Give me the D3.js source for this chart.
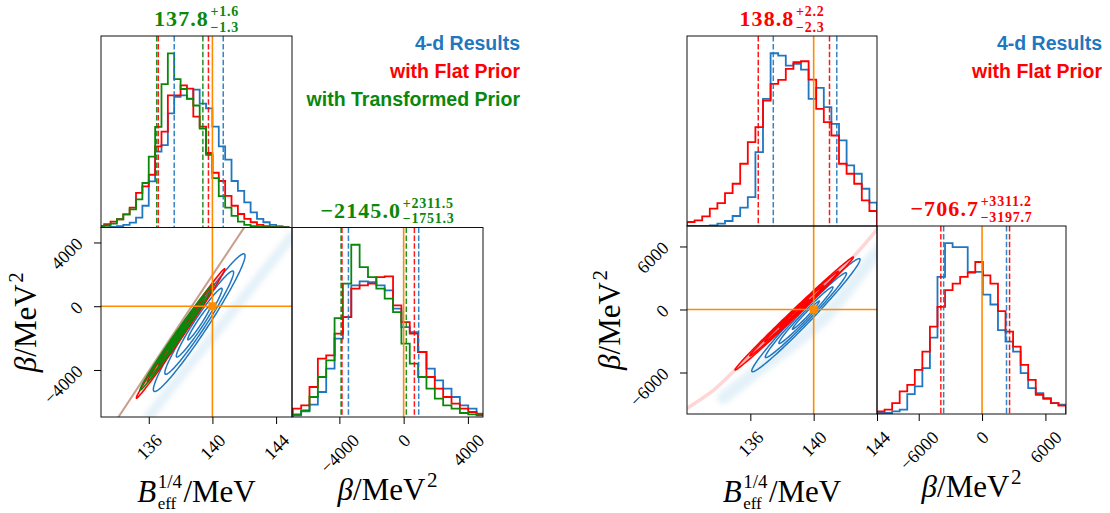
<!DOCTYPE html>
<html>
<head>
<meta charset="utf-8">
<script src="https://cdn.jsdelivr.net/npm/d3@7"></script>
<style>
  body { margin: 0; background: #fff; }
  svg { display: block; }
</style>
</head>
<body>
<div id="chart"></div>
<script>
// ---------- data ----------
// left corner : 1-d histograms of B_eff^{1/4}
const leftBBins   = { start: 132.8, width: 0.4 };
const leftBBlue   = [0,0,2,4,8,15,30,66,140,230,250,346,396,401,391,418,376,361,306,246,206,141,111,76,46,26,16,8,4,2];
const leftBRed    = [5,10,18,25,40,60,105,125,160,246,291,401,401,431,421,336,306,226,166,141,96,66,41,26,16,8,4,2,0,0];
const leftBGreen  = [3,6,12,25,40,55,85,135,215,305,435,528,450,420,390,370,300,220,150,95,60,35,18,8,4,2,1,1,0,0];
// left corner : 1-d histograms of beta
const leftBetaBins  = { start: -6900, width: 520 };
const leftBetaBlue  = [5,17,37,75,145,235,300,395,407,405,395,380,325,270,255,195,145,110,85,60,35,25,10];
const leftBetaRed   = [25,35,90,175,185,250,300,385,395,400,420,422,335,285,250,195,120,85,60,40,25,15,8];
const leftBetaGreen = [8,20,60,120,170,297,400,517,450,420,385,355,315,220,160,120,85,55,35,25,12,8,5];
// right corner
const rightBBins    = { start: 132.0, width: 0.48 };
const rightBBlue    = [0,0,0,2,7,15,30,55,87,222,382,519,512,482,487,470,382,415,357,307,257,182,157,112,70];
const rightBRed     = [12,17,29,52,69,99,127,187,252,297,377,427,439,472,492,495,440,352,312,272,187,157,127,77,45];
const rightBetaBins = { start: -9950, width: 716 };
const rightBetaBlue = [3,3,8,13,60,83,138,230,413,515,503,503,428,428,360,330,253,218,188,123,78,63,48,33,28];
const rightBetaRed  = [8,13,33,68,88,133,188,263,323,373,393,413,426,458,418,393,310,248,203,148,103,58,46,33,25];

// 16% / 84% quantile lines
const leftBQuantBlue  = [137.6, 140.68];
const leftBQuantRed   = [136.6, 139.75];
const leftBQuantGreen = [136.5, 139.4];
const leftBetaQuantBlue  = [-3437, 937];
const leftBetaQuantRed   = [-3840, 669];
const leftBetaQuantGreen = [-3896, 166.5];
const rightBQuantBlue  = [137.45, 141.46];
const rightBQuantRed   = [136.5, 141.0];
const rightBetaQuantBlue = [-3637, 2317];
const rightBetaQuantRed  = [-3904, 2604.5];

// true values (orange)
const truthB = 140, truthBeta = 0;

// titles: median, plus, minus
const leftBTitle     = ["137.8", "+1.6", "\u22121.3"];
const leftBetaTitle  = ["\u22122145.0", "+2311.5", "\u22121751.3"];
const rightBTitle    = ["138.8", "+2.2", "\u22122.3"];
const rightBetaTitle = ["\u2212706.7", "+3311.2", "\u22123197.7"];

// ticks
const leftBTicks = [136, 140, 144];
const leftBetaTicks = [-4000, 0, 4000];
const rightBTicks = [136, 140, 144];
const rightBetaTicks = [-6000, 0, 6000];

// 2-d contours as gaussian ellipses: mean, sd, correlation
const leftBlueC  = { mean: [139.17, -1030], sd: [1.44, 2160], rho: 0.97 };
const leftRedC   = { mean: [138.0, -1706],  sd: [1.39, 2031], rho: 0.9955 };
const leftGreenC = { mean: [137.78, -1915], sd: [1.16, 1667], rho: 0.9935 };
const rightBlueC = { mean: [139.51, -541],  sd: [1.71, 2692], rho: 0.984 };
const rightRedC  = { mean: [138.77, -385],  sd: [1.87, 2690], rho: 0.9965 };
const sigmaLevels = [2, 1.5, 1, 0.5];

// scatter clouds (center lines)
const leftBlueCloud  = [[136,-6950],[138.3,-4000],[140.5,-1300],[142.7,1500],[145,4400]];
const leftPriorLine  = [[134.0,-7100],[138.0,-1050],[141.94,4856],[142.6,5900]];
const rightBlueCloud = [[134.3,-8400],[136.3,-6000],[140.5,-1000],[143.5,4500],[144.6,6500]];
const rightPriorLine = [[131.8,-9600],[133.7,-7650],[134.9,-5950],[138.8,-350],[142.5,5000],[144.2,8000]];

// legends
const leftLegend  = [["4-d Results", "blue"], ["with Flat Prior", "red"], ["with Transformed Prior", "green"]];
const rightLegend = [["4-d Results", "blue"], ["with Flat Prior", "red"]];

// ---------- drawing ----------
const W = 1110, H = 513;
const col = { blue: "#1f77c0", red: "#ff0000", green: "#0b870b", orange: "#ff8c00" };
const serif = "'Liberation Serif','Times New Roman',serif";
const sans = "'Liberation Sans',Arial,sans-serif";
const minus = d => d < 0 ? "\u2212" + Math.abs(d) : String(d);

const svg = d3.select("#chart").append("svg").attr("width", W).attr("height", H);
svg.append("rect").attr("width", W).attr("height", H).attr("fill", "#fff");
const defs = svg.append("defs");
defs.append("filter").attr("id", "blur").append("feGaussianBlur").attr("stdDeviation", 2.5);
let clipN = 0;

function panel(x0, x1, y0, y1) {
  const id = "clip" + (clipN++);
  defs.append("clipPath").attr("id", id).append("rect")
    .attr("x", x0).attr("y", y0).attr("width", x1 - x0).attr("height", y1 - y0);
  return svg.append("g").attr("clip-path", `url(#${id})`);
}

function frame(x0, x1, y0, y1) {
  svg.append("rect").attr("x", x0).attr("y", y0).attr("width", x1 - x0).attr("height", y1 - y0)
    .attr("fill", "none").attr("stroke", "#111").attr("stroke-width", 1);
}

function histPath(xs, ys, bins, counts) {
  const pts = [[bins.start, 0]];
  counts.forEach((c, i) => {
    const a = bins.start + i * bins.width;
    pts.push([a, c], [a + bins.width, c]);
  });
  pts.push([bins.start + counts.length * bins.width, 0]);
  return d3.line().x(d => xs(d[0])).y(d => ys(d[1]))(pts);
}

function drawHist(g, xs, y0, y1, bins, series, quants) {
  const maxC = d3.max(series, s => d3.max(s[1]));
  const ys = d3.scaleLinear().domain([0, maxC * 1.1]).range([y1, y0]);
  series.forEach(([c, counts]) => {
    g.append("path").attr("d", histPath(xs, ys, bins, counts))
      .attr("fill", "none").attr("stroke", col[c]).attr("stroke-width", 1.8);
  });
  quants.forEach(([c, vals]) => {
    vals.forEach(v => {
      g.append("line").attr("x1", xs(v)).attr("x2", xs(v)).attr("y1", y0).attr("y2", y1)
        .attr("stroke", col[c]).attr("stroke-width", 1.5).attr("stroke-dasharray", "5.5,2.4")
        .attr("opacity", 0.9);
    });
  });
}

function ellipse(c, r) {
  const k = Math.sqrt(1 - c.rho * c.rho);
  return d3.range(0, 161).map(i => {
    const t = i / 160 * 2 * Math.PI;
    const u = r * Math.cos(t), v = r * Math.sin(t);
    return [c.mean[0] + c.sd[0] * u, c.mean[1] + c.sd[1] * (c.rho * u + k * v)];
  });
}

function drawContours(g, xs, ys, c, color, filled) {
  const line = d3.line().x(d => xs(d[0])).y(d => ys(d[1])).curve(d3.curveLinearClosed);
  sigmaLevels.forEach(r => {
    g.append("path").attr("d", line(ellipse(c, r)))
      .attr("fill", filled ? color : "none").attr("fill-opacity", filled ? 0.17 : 0)
      .attr("stroke", color).attr("stroke-width", 1.5);
  });
}

function cloud(g, xs, ys, pts, color, width, opacity, blur) {
  const line = d3.line().x(d => xs(d[0])).y(d => ys(d[1])).curve(d3.curveCatmullRom);
  const p = g.append("path").attr("d", line(pts)).attr("fill", "none")
    .attr("stroke", color).attr("stroke-width", width).attr("stroke-opacity", opacity)
    .attr("stroke-linecap", "round");
  if (blur) p.attr("filter", "url(#blur)");
}

// text with stacked super/subscript
function scripted(g, cx, y, o) {
  const grp = g.append("g").attr("fill", o.color).style("font-family", serif)
    .style("font-weight", o.weight || "normal");
  const base = grp.append("text").attr("y", y).style("font-size", o.size + "px")
    .style("letter-spacing", (o.ls || 0) + "px");
  o.base.forEach(([t, it]) => base.append("tspan").style("font-style", it ? "italic" : "normal").text(t));
  const wb = base.node().getComputedTextLength();
  const scr = [];
  if (o.sup) scr.push(grp.append("text").attr("y", y - o.up).style("font-size", o.ssize + "px")
    .style("letter-spacing", (o.ls || 0) * 0.7 + "px").text(o.sup));
  if (o.sub) scr.push(grp.append("text").attr("y", y + o.down).style("font-size", (o.bsize || o.ssize) + "px")
    .style("letter-spacing", (o.ls || 0) * 0.7 + "px").text(o.sub));
  const ws = d3.max(scr, s => s.node().getComputedTextLength()) || 0;
  let rest = null, wr = 0;
  if (o.rest) {
    rest = grp.append("text").attr("y", y).style("font-size", o.size + "px").text(o.rest);
    wr = rest.node().getComputedTextLength();
  }
  const gap = 1.5;
  let x = cx - (wb + gap + ws + (rest ? gap + wr : 0)) / 2;
  base.attr("x", x); x += wb + gap;
  scr.forEach(s => s.attr("x", x)); x += ws + gap;
  if (rest) rest.attr("x", x);
}

function title(cx, top, t, color) {
  scripted(svg, cx, top - 10, { base: [[t[0], false]], sup: t[1], sub: t[2], up: 10, down: 5.5,
    size: 22, ssize: 14, weight: "bold", color: color, ls: 1.1 });
}

function styleTick(sel) {
  sel.style("font-family", serif).style("font-size", "18px").attr("fill", "#000")
    .attr("text-anchor", "middle").attr("dominant-baseline", "central");
}

function xAxis(xs, ticks, y) {
  const ax = svg.append("g").attr("transform", `translate(0,${y})`)
    .call(d3.axisBottom(xs).tickValues(ticks).tickSize(7).tickSizeOuter(0).tickFormat(minus));
  ax.select(".domain").remove();
  ax.selectAll(".tick line").attr("stroke", "#000");
  ax.selectAll(".tick text").each(function () {
    const t = d3.select(this).attr("y", null).attr("dy", null);
    styleTick(t);
    const half = (this.getComputedTextLength() + 12.6) / (2 * Math.SQRT2);
    t.attr("transform", `translate(0,${16 + half}) rotate(-45)`);
  });
}

function yAxis(ys, ticks, x) {
  const ax = svg.append("g").attr("transform", `translate(${x},0)`)
    .call(d3.axisLeft(ys).tickValues(ticks).tickSize(7).tickSizeOuter(0).tickFormat(minus));
  ax.select(".domain").remove();
  ax.selectAll(".tick line").attr("stroke", "#000");
  ax.selectAll(".tick text").each(function () {
    const t = d3.select(this).attr("x", null).attr("dy", null);
    styleTick(t);
    const half = (this.getComputedTextLength() + 12.6) / (2 * Math.SQRT2);
    t.attr("transform", `translate(${-17 - half},${-6.5 + half}) rotate(-45)`);
  });
}

const betaLabel = { base: [["\u03b2", true], ["/MeV", false]], sup: "2", up: 13, size: 31, ssize: 21, color: "#000" };
const bLabel = { base: [["B", true]], sup: "1/4", sub: "eff", up: 14, down: 7, ssize: 19, bsize: 17, rest: "/MeV", size: 31, color: "#000" };

function corner(cfg) {
  const { x0, x1, x2, y0, y1, y2 } = cfg;
  const xB = d3.scaleLinear().domain(cfg.bDomain).range([x0, x1]);
  const xBeta = d3.scaleLinear().domain(cfg.betaDomain).range([x1, x2]);
  const yBeta = d3.scaleLinear().domain(cfg.betaDomain).range([y2, y1]);

  // top histogram
  const g1 = panel(x0, x1, y0, y1);
  drawHist(g1, xB, y0, y1, cfg.bBins, cfg.bSeries, cfg.bQuants);
  g1.append("line").attr("x1", xB(truthB)).attr("x2", xB(truthB)).attr("y1", y0).attr("y2", y1)
    .attr("stroke", col.orange).attr("stroke-width", 1.6);

  // beta histogram
  const g3 = panel(x1, x2, y1, y2);
  drawHist(g3, xBeta, y1, y2, cfg.betaBins, cfg.betaSeries, cfg.betaQuants);
  g3.append("line").attr("x1", xBeta(truthBeta)).attr("x2", xBeta(truthBeta)).attr("y1", y1).attr("y2", y2)
    .attr("stroke", col.orange).attr("stroke-width", 1.6);

  // 2-d panel
  const g2 = panel(x0, x1, y1, y2);
  cloud(g2, xB, yBeta, cfg.blueCloud, col.blue, cfg.cloudWidth, 0.1, true);
  cloud(g2, xB, yBeta, cfg.priorLine, cfg.priorColor, cfg.priorWidth, cfg.priorOpacity, false);
  cfg.contours.forEach(([c, color, filled]) => drawContours(g2, xB, yBeta, c, col[color], filled));
  g2.append("line").attr("x1", xB(truthB)).attr("x2", xB(truthB)).attr("y1", y1).attr("y2", y2)
    .attr("stroke", col.orange).attr("stroke-width", 1.6);
  g2.append("line").attr("x1", x0).attr("x2", x1).attr("y1", yBeta(truthBeta)).attr("y2", yBeta(truthBeta))
    .attr("stroke", col.orange).attr("stroke-width", 1.6);
  g2.append("rect").attr("x", xB(truthB) - 4).attr("y", yBeta(truthBeta) - 4)
    .attr("width", 8).attr("height", 8).attr("fill", col.orange);

  frame(x0, x1, y0, y1);
  frame(x0, x1, y1, y2);
  frame(x1, x2, y1, y2);

  xAxis(xB, cfg.bTicks, y2);
  xAxis(xBeta, cfg.betaTicks, y2);
  yAxis(yBeta, cfg.betaTicks, x0);

  title((x0 + x1) / 2, y0, cfg.bTitle, cfg.titleColor);
  title((x1 + x2) / 2, y1, cfg.betaTitle, cfg.titleColor);

  scripted(svg, (x0 + x1) / 2, cfg.bLabelY, bLabel);
  scripted(svg, (x1 + x2) / 2, cfg.betaLabelY, betaLabel);
  scripted(svg.append("g").attr("transform", `translate(${cfg.yLabelX},${(y1 + y2) / 2}) rotate(-90)`), 0, 0, betaLabel);

  cfg.legend.forEach(([t, c], i) => {
    svg.append("text").attr("x", cfg.legendX).attr("y", 50 + i * 28)
      .attr("text-anchor", "end").attr("fill", col[c])
      .style("font-family", sans).style("font-weight", "bold").style("font-size", "19.5px")
      .text(t);
  });
}

corner({
  x0: 101, x1: 292, x2: 483, y0: 36, y1: 227.5, y2: 417,
  bDomain: [133, 145], betaDomain: [-6950, 4940],
  bBins: leftBBins, bSeries: [["blue", leftBBlue], ["red", leftBRed], ["green", leftBGreen]],
  bQuants: [["blue", leftBQuantBlue], ["red", leftBQuantRed], ["green", leftBQuantGreen]],
  betaBins: leftBetaBins, betaSeries: [["blue", leftBetaBlue], ["red", leftBetaRed], ["green", leftBetaGreen]],
  betaQuants: [["blue", leftBetaQuantBlue], ["red", leftBetaQuantRed], ["green", leftBetaQuantGreen]],
  blueCloud: leftBlueCloud, cloudWidth: 10,
  priorLine: leftPriorLine, priorColor: "#b0765a", priorWidth: 2, priorOpacity: 0.7,
  contours: [[leftBlueC, "blue", false], [leftRedC, "red", true], [leftGreenC, "green", true]],
  bTicks: leftBTicks, betaTicks: leftBetaTicks,
  bTitle: leftBTitle, betaTitle: leftBetaTitle, titleColor: col.green,
  bLabelY: 502, betaLabelY: 500, yLabelX: 36,
  legend: leftLegend, legendX: 520
});

corner({
  x0: 687, x1: 877, x2: 1066, y0: 36, y1: 226, y2: 414,
  bDomain: [132, 144], betaDomain: [-9950, 7950],
  bBins: rightBBins, bSeries: [["blue", rightBBlue], ["red", rightBRed]],
  bQuants: [["blue", rightBQuantBlue], ["red", rightBQuantRed]],
  betaBins: rightBetaBins, betaSeries: [["blue", rightBetaBlue], ["red", rightBetaRed]],
  betaQuants: [["blue", rightBetaQuantBlue], ["red", rightBetaQuantRed]],
  blueCloud: rightBlueCloud, cloudWidth: 13,
  priorLine: rightPriorLine, priorColor: "#ff3030", priorWidth: 3.5, priorOpacity: 0.2,
  contours: [[rightBlueC, "blue", false], [rightRedC, "red", true]],
  bTicks: rightBTicks, betaTicks: rightBetaTicks,
  bTitle: rightBTitle, betaTitle: rightBetaTitle, titleColor: col.red,
  bLabelY: 502, betaLabelY: 497, yLabelX: 620,
  legend: rightLegend, legendX: 1102
});
</script>
</body>
</html>
